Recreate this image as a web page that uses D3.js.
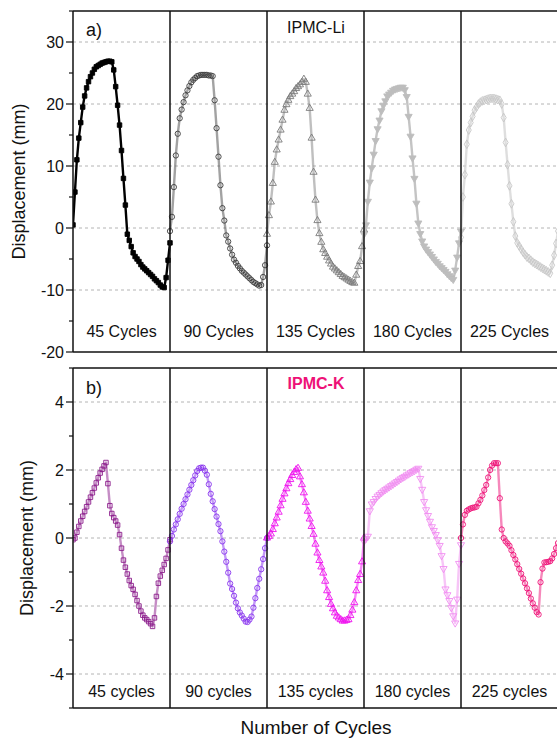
<!DOCTYPE html>
<html lang="en">
<head>
<meta charset="UTF-8">
<title>IPMC displacement vs number of cycles</title>
<script src="https://d3js.org/d3.v7.min.js"></script>
<style>
    body { margin: 0; background: #fff; }
    svg { display: block; font-family: "Liberation Sans", Arial, sans-serif; }
</style>
</head>
<body>
<svg id="chart" width="557" height="740"></svg>
<script>
// one segment per cycle count, samples equally spaced in time inside a segment
const labelsA = ["45 Cycles", "90 Cycles", "135 Cycles", "180 Cycles", "225 Cycles"];
const labelsB = ["45 cycles", "90 cycles", "135 cycles", "180 cycles", "225 cycles"];
const ticksA = [-20, -10, 0, 10, 20, 30];
const ticksB = [-4, -2, 0, 2, 4];

// a) IPMC-Li displacement (mm)
const li45  = [0.5,5.8,11,14.5,17,19.5,21.3,22.6,23.6,24.4,25.0,25.6,26.0,26.2,26.4,26.6,26.7,26.8,26.9,26.9,26.8,25.5,22.8,19.8,16.6,12.5,8.0,3.7,-1.0,-2.0,-3.0,-4.0,-4.6,-5.0,-5.4,-5.9,-6.3,-6.6,-6.9,-7.2,-7.5,-7.8,-8.2,-8.5,-8.8,-9.2,-9.5,-9.6,-8.0,-5.2,-2.4];
const li90  = [-0.5,1.8,6.6,11.7,15.2,17.7,19.1,20.3,21.4,22.2,22.9,23.5,23.9,24.2,24.5,24.6,24.7,24.7,24.7,24.7,24.6,24.6,24.5,20.6,16.1,11.5,6.9,3.2,1.2,-1.2,-2.2,-3.3,-4.3,-5.1,-5.6,-6.1,-6.5,-6.9,-7.2,-7.5,-7.8,-8.1,-8.4,-8.7,-8.9,-9.1,-9.3,-9.2,-7.9,-6.0,-2.8];
const li135 = [-1.0,2.0,4.2,7.2,10.6,12.6,14.2,15.8,17.4,19.0,19.9,20.6,21.2,21.6,22.0,22.5,22.8,23.1,23.5,24.0,23.5,21.6,19.3,14.5,9.0,4.5,1.2,-0.9,-2.3,-3.5,-4.1,-4.7,-5.3,-5.8,-6.3,-6.6,-6.9,-7.2,-7.5,-7.8,-8.0,-8.2,-8.4,-8.6,-8.8,-8.9,-7.6,-6.2,-5.4,-3.0,-0.3];
const li180 = [-1.0,0.5,4.3,7.4,9.7,11.9,14.1,16.0,17.4,18.9,19.8,20.5,21.3,21.6,21.9,22.2,22.4,22.5,22.6,22.7,22.7,22.3,21.2,18.0,14.8,11.3,8.0,4.0,0.8,-0.9,-2.1,-2.9,-3.4,-3.8,-4.2,-4.6,-5.0,-5.4,-5.7,-6.1,-6.4,-6.7,-7.0,-7.4,-7.7,-8.0,-8.3,-6.8,-4.7,-2.4,-0.5];
const li225 = [-1.5,5.0,8.6,13.5,15.8,17.0,18.0,19.0,19.5,20.0,20.3,20.5,20.6,20.7,20.8,20.9,20.9,20.9,20.8,20.7,20.6,20.0,17.8,13.8,10.2,6.8,3.9,1.0,-1.3,-2.4,-2.9,-3.4,-3.9,-4.3,-4.7,-4.9,-5.2,-5.5,-5.7,-5.9,-6.1,-6.3,-6.5,-6.7,-6.9,-7.1,-7.3,-6.0,-4.4,-2.5,-0.5];

// b) IPMC-K displacement (mm)
const k45  = [-0.05,0.0,0.17,0.34,0.5,0.64,0.78,0.92,1.06,1.2,1.33,1.47,1.62,1.77,1.91,2.02,2.12,2.22,1.6,0.95,0.72,0.6,0.5,0.38,0.1,-0.3,-0.65,-0.86,-1.06,-1.25,-1.4,-1.51,-1.66,-1.84,-2.0,-2.15,-2.27,-2.35,-2.4,-2.46,-2.52,-2.6,-2.35,-1.72,-1.33,-1.12,-0.95,-0.78,-0.6,-0.35,-0.05];
const k90  = [-0.1,0.06,0.25,0.4,0.55,0.71,0.86,1.0,1.14,1.28,1.42,1.56,1.7,1.84,1.97,2.05,2.07,2.07,1.98,1.86,1.58,1.3,1.08,0.85,0.63,0.41,0.2,-0.1,-0.4,-0.7,-1.02,-1.34,-1.5,-1.7,-1.9,-2.07,-2.19,-2.28,-2.37,-2.46,-2.47,-2.4,-2.31,-2.05,-1.77,-1.47,-1.2,-0.92,-0.62,-0.3,0.0];
const k135 = [0.0,0.05,0.12,0.25,0.42,0.59,0.76,0.95,1.14,1.3,1.45,1.6,1.72,1.84,1.93,2.01,2.05,1.8,1.57,1.33,1.05,0.79,0.56,0.34,0.11,-0.18,-0.44,-0.66,-0.85,-1.03,-1.27,-1.55,-1.75,-1.95,-2.08,-2.2,-2.3,-2.35,-2.4,-2.44,-2.44,-2.42,-2.4,-2.28,-2.12,-1.9,-1.55,-1.25,-1.07,-0.7,0.0];
const k180 = [-0.1,-0.02,0.05,0.8,1.0,1.07,1.16,1.23,1.28,1.33,1.38,1.42,1.46,1.5,1.54,1.58,1.62,1.66,1.7,1.74,1.78,1.81,1.85,1.88,1.92,1.95,1.98,2.02,2.05,1.75,1.43,1.07,0.83,0.66,0.49,0.33,0.22,0.1,-0.05,-0.22,-0.52,-0.9,-1.5,-1.67,-1.84,-2.05,-2.29,-2.5,-1.8,-0.75,-0.2];
const k225 = [0.0,0.4,0.68,0.8,0.84,0.87,0.89,0.9,0.92,1.02,1.12,1.25,1.41,1.56,1.78,2.0,2.13,2.2,2.2,2.2,1.17,0.25,0.0,-0.1,-0.16,-0.23,-0.36,-0.5,-0.63,-0.77,-0.91,-1.05,-1.19,-1.33,-1.48,-1.62,-1.78,-1.92,-2.05,-2.18,-2.25,-1.3,-0.9,-0.72,-0.71,-0.7,-0.68,-0.6,-0.47,-0.3,-0.15];

const triDown = {
    draw(ctx, size) { // triangle pointing down
        const y = -Math.sqrt(size / (Math.sqrt(3) * 3));
        ctx.moveTo(0, -y * 2);
        ctx.lineTo(-Math.sqrt(3) * y, y);
        ctx.lineTo(Math.sqrt(3) * y, y);
        ctx.closePath();
    }
};

// band = the dense marker trail of the original, drawn as a wide soft stroke
const seriesA = [
    { values: li45,  marker: d3.symbolSquare,   stroke: "#000",    fill: "#000",    band: "#000",    bandOp: 1,    size: 20 },
    { values: li90,  marker: d3.symbolCircle,   stroke: "#3c3c3c", fill: "none",    band: "#555",    bandOp: 0.55, size: 22 },
    { values: li135, marker: d3.symbolTriangle, stroke: "#7a7a7a", fill: "none",    band: "#8a8a8a", bandOp: 0.55, size: 22 },
    { values: li180, marker: triDown,           stroke: "#bdbdbd", fill: "#bdbdbd", band: "#c4c4c4", bandOp: 1,    size: 22 },
    { values: li225, marker: d3.symbolDiamond,  stroke: "#c6c6c6", fill: "none",    band: "#d0d0d0", bandOp: 0.7,  size: 22 }
];
const seriesB = [
    { values: k45,  marker: d3.symbolSquare,   stroke: "#8b1c8b", fill: "none", band: "#8b1c8b", bandOp: 0.5, size: 20 },
    { values: k90,  marker: d3.symbolCircle,   stroke: "#8833ee", fill: "none", band: "#8833ee", bandOp: 0.5, size: 22 },
    { values: k135, marker: d3.symbolTriangle, stroke: "#ee11ee", fill: "none", band: "#ee11ee", bandOp: 0.5, size: 22 },
    { values: k180, marker: triDown,           stroke: "#f08cf0", fill: "none", band: "#f08cf0", bandOp: 0.5, size: 22 },
    { values: k225, marker: d3.symbolCircle,   stroke: "#ee1177", fill: "none", band: "#ee1177", bandOp: 0.5, size: 22 }
];

const svg = d3.select("#chart");
const left = 73, right = 558;
const x = d3.scaleLinear().domain([0, 5]).range([left, right]);

const panels = [
    { id: "a", top: 11, bottom: 352, domain: [-20, 35], ticks: ticksA, minorStep: 5, series: seriesA,
      labels: labelsA, labelY: 337, tag: "a)", tagY: 36, name: "IPMC-Li", nameColor: "#111", nameWeight: "normal",
      nameY: 33, titleX: 25 },
    { id: "b", top: 368, bottom: 708, domain: [-5, 5], ticks: ticksB, minorStep: 1, series: seriesB,
      labels: labelsB, labelY: 697, tag: "b)", tagY: 394, name: "IPMC-K", nameColor: "#ee1177", nameWeight: "bold",
      nameY: 389, titleX: 33 }
];

panels.forEach(p => {
    const y = d3.scaleLinear().domain(p.domain).range([p.bottom, p.top]);
    const g = svg.append("g");

    g.append("clipPath").attr("id", "clip-" + p.id)
        .append("rect")
        .attr("x", left).attr("y", p.top)
        .attr("width", right - left).attr("height", p.bottom - p.top);

    // dashed grid
    g.selectAll(".grid")
        .data(p.ticks.filter(t => y(t) > p.top + 1 && y(t) < p.bottom - 1))
        .enter().append("line")
        .attr("x1", left).attr("x2", 557)
        .attr("y1", d => y(d)).attr("y2", d => y(d))
        .attr("stroke", "#b4b4b4").attr("stroke-width", 1)
        .attr("stroke-dasharray", "3,3");

    // curves
    const plot = g.append("g").attr("clip-path", `url(#clip-${p.id})`);
    p.series.forEach((s, si) => {
        const n = s.values.length;
        const pts = s.values.map((v, i) => [si + i / (n - 1), v]);
        plot.append("path")
            .datum(pts)
            .attr("fill", "none")
            .attr("stroke", s.band)
            .attr("stroke-opacity", s.bandOp)
            .attr("stroke-width", 2.4)
            .attr("stroke-linejoin", "round")
            .attr("d", d3.line().x(d => x(d[0])).y(d => y(d[1])));
        const sym = d3.symbol().type(s.marker).size(s.size);
        plot.selectAll(null)
            .data(pts)
            .enter().append("path")
            .attr("d", sym)
            .attr("transform", d => `translate(${x(d[0])},${y(d[1])})`)
            .attr("fill", s.fill)
            .attr("stroke", s.stroke)
            .attr("stroke-width", 0.9);
    });

    // frame and cycle dividers
    g.append("line").attr("x1", left).attr("x2", 557).attr("y1", p.top).attr("y2", p.top)
        .attr("stroke", "#111").attr("stroke-width", 1.5);
    g.append("line").attr("x1", left).attr("x2", 557).attr("y1", p.bottom).attr("y2", p.bottom)
        .attr("stroke", "#111").attr("stroke-width", 1.5);
    g.selectAll(".div")
        .data(d3.range(0, 6))
        .enter().append("line")
        .attr("x1", d => x(d)).attr("x2", d => x(d))
        .attr("y1", p.top).attr("y2", p.bottom)
        .attr("stroke", "#111").attr("stroke-width", 1.5);

    // y axis ticks
    const minor = d3.range(p.domain[0], p.domain[1] + 0.001, p.minorStep)
        .filter(v => !p.ticks.includes(v));
    g.selectAll(".minor").data(minor).enter().append("line")
        .attr("x1", left - 4).attr("x2", left)
        .attr("y1", d => y(d)).attr("y2", d => y(d))
        .attr("stroke", "#111").attr("stroke-width", 1.2);
    g.selectAll(".major").data(p.ticks).enter().append("line")
        .attr("x1", left - 7).attr("x2", left)
        .attr("y1", d => y(d)).attr("y2", d => y(d))
        .attr("stroke", "#111").attr("stroke-width", 1.2);
    g.selectAll(".tl").data(p.ticks).enter().append("text")
        .attr("x", left - 9).attr("y", d => y(d)).attr("dy", "0.36em")
        .attr("text-anchor", "end").attr("font-size", 16).attr("fill", "#111")
        .text(d => d);

    // texts
    g.selectAll(".cyc").data(p.labels).enter().append("text")
        .attr("x", (d, i) => x(i + 0.5)).attr("y", p.labelY)
        .attr("text-anchor", "middle").attr("font-size", 16).attr("fill", "#111")
        .text(d => d);
    g.append("text").attr("x", 86).attr("y", p.tagY)
        .attr("font-size", 18).attr("fill", "#111").text(p.tag);
    g.append("text").attr("x", 316).attr("y", p.nameY)
        .attr("text-anchor", "middle").attr("font-size", 16)
        .attr("font-weight", p.nameWeight).attr("fill", p.nameColor).text(p.name);
    g.append("text")
        .attr("transform", `translate(${p.titleX},${(p.top + p.bottom) / 2}) rotate(-90)`)
        .attr("text-anchor", "middle").attr("font-size", 18).attr("fill", "#111")
        .text("Displacement (mm)");
});

svg.append("text")
    .attr("x", 316).attr("y", 734)
    .attr("text-anchor", "middle").attr("font-size", 19).attr("fill", "#111")
    .text("Number of Cycles");
</script>
</body>
</html>
